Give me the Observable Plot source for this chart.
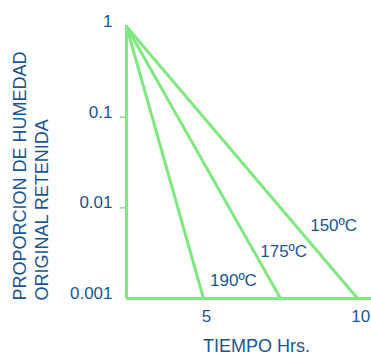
<!DOCTYPE html>
<html>
<head>
<meta charset="utf-8">
<script src="https://cdn.jsdelivr.net/npm/d3@7"></script>
<script src="https://cdn.jsdelivr.net/npm/@observablehq/plot@0.6"></script>
<style>
  html, body { margin: 0; padding: 0; background: #fff; }
</style>
</head>
<body>
<div id="chart"></div>
<script>
const temps = ["150ºC", "175ºC", "190ºC"];
const startTime = 2.5;
const endTimes = [10, 7.5, 5];
const startValue = 1;
const endValue = 0.001;
const xTicks = [5, 10];
const yTicks = [1, 0.1, 0.01, 0.001];
const yTickLabels = ["1", "0.1", "0.01", "0.001"];
const labelX = [9.22, 7.6, 5.97];
const labelY = [0.0063, 0.0033, 0.00158];

const lines = temps.flatMap((t, i) => [
  {temp: t, time: startTime, value: startValue},
  {temp: t, time: endTimes[i], value: endValue}
]);
const labels = temps.map((t, i) => ({temp: t, x: labelX[i], y: labelY[i]}));

const green = "#80e880";
const blue = "#1b5590";
const font = "Liberation Sans, Arial, sans-serif";

const plot = Plot.plot({
  width: 371,
  height: 358,
  marginLeft: 126,
  marginRight: 0,
  marginTop: 26,
  marginBottom: 60,
  style: {fontFamily: font, background: "#fff"},
  x: {type: "linear", domain: [2.5, 10.45]},
  y: {type: "log", domain: [0.001, 1]},
  marks: [
    Plot.axisY({ticks: [0.1, 0.01], tickSize: 6, stroke: green, strokeWidth: 1.5, text: null, label: null}),
    Plot.axisY({ticks: yTicks, tickSize: 0, tickPadding: 14, tickFormat: (d) => yTickLabels[yTicks.indexOf(d)], fill: blue, fontSize: 17, dy: -5, label: null}),
    Plot.axisX({ticks: xTicks, tickSize: 0, tickPadding: 11, fill: blue, fontSize: 17, dx: 3, label: null}),
    Plot.ruleX([startTime], {y1: endValue, y2: startValue, stroke: green, strokeWidth: 3}),
    Plot.ruleY([endValue], {x1: startTime, x2: 10.45, stroke: green, strokeWidth: 3}),
    Plot.line(lines, {x: "time", y: "value", z: "temp", stroke: green, strokeWidth: 3}),
    Plot.text(labels, {x: "x", y: "y", text: "temp", fill: blue, fontSize: 17}),
    Plot.text(["TIEMPO Hrs."], {frameAnchor: "bottom", x: [6.72], dy: 53, fill: blue, fontSize: 18}),
    Plot.text(["PROPORCION DE HUMEDAD\nORIGINAL RETENIDA"], {frameAnchor: "bottom-left", rotate: -90, textAnchor: "start", lineAnchor: "middle", lineHeight: 1.22, dx: -97, dy: 2, fill: blue, fontSize: 18})
  ]
});
document.getElementById("chart").appendChild(plot);
</script>
</body>
</html>
